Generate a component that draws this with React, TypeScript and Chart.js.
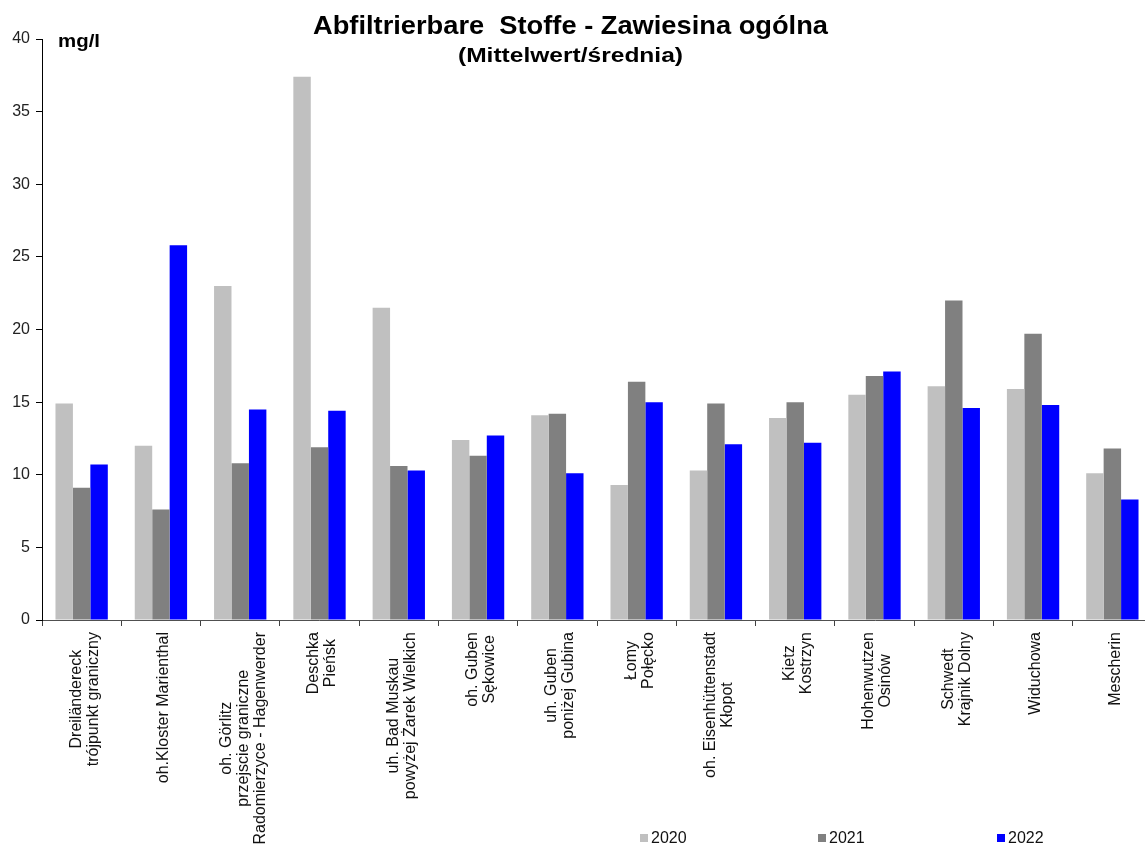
import React, { useEffect, useRef } from "react";
import { Chart, registerables } from "chart.js";

Chart.register(...registerables);

const categories: string[][] = [
  ["Dreiländereck", "trójpunkt graniczny"],
  ["oh.Kloster Marienthal"],
  ["oh. Görlitz", "przejscie graniczne", "Radomierzyce - Hagenwerder"],
  ["Deschka", "Pieńsk"],
  ["uh. Bad Muskau", "powyżej Żarek Wielkich"],
  ["oh. Guben", "Sękowice"],
  ["uh. Guben", "poniżej Gubina"],
  ["Łomy", "Połęcko"],
  ["oh. Eisenhüttenstadt", "Kłopot"],
  ["Kietz", "Kostrzyn"],
  ["Hohenwutzen", "Osinów"],
  ["Schwedt", "Krajnik Dolny"],
  ["Widuchowa"],
  ["Mescherin"],
];

const seriesNames = ["2020", "2021", "2022"];
const values2020 = [14.9, 12.0, 23.0, 37.4, 21.5, 12.4, 14.1, 9.3, 10.3, 13.9, 15.5, 16.1, 15.9, 10.1];
const values2021 = [9.1, 7.6, 10.8, 11.9, 10.6, 11.3, 14.2, 16.4, 14.9, 15.0, 16.8, 22.0, 19.7, 11.8];
const values2022 = [10.7, 25.8, 14.5, 14.4, 10.3, 12.7, 10.1, 15.0, 12.1, 12.2, 17.1, 14.6, 14.8, 8.3];
const seriesColors = ["#c0c0c0", "#808080", "#0000ff"];

const titleText = "Abfiltrierbare  Stoffe - Zawiesina ogólna";
const subtitleText = "(Mittelwert/średnia)";
const unitText = "mg/l";

const yMin = 0;
const yMax = 40;
const yStep = 5;

const FONT = '"Liberation Sans", Arial, Helvetica, sans-serif';

function drawStretched(
  ctx: CanvasRenderingContext2D,
  text: string,
  x: number,
  y: number,
  font: string,
  targetWidth: number,
  align: "center" | "left"
) {
  ctx.save();
  ctx.font = font;
  const w = ctx.measureText(text).width;
  const sx = targetWidth / w;
  ctx.translate(x, y);
  ctx.scale(sx, 1);
  ctx.textAlign = align;
  ctx.textBaseline = "alphabetic";
  ctx.fillText(text, 0, 0);
  ctx.restore();
}

const overlayPlugin = {
  id: "overlay",
  beforeDraw(chart: any) {
    const ctx = chart.ctx;
    ctx.save();
    ctx.fillStyle = "#ffffff";
    ctx.fillRect(0, 0, chart.width, chart.height);
    ctx.restore();
  },
  afterDraw(chart: any) {
    const ctx: CanvasRenderingContext2D = chart.ctx;
    const xs = chart.scales.x;
    const area = chart.chartArea;

    // category labels, rotated, lines centred on each other
    ctx.save();
    ctx.font = `16px ${FONT}`;
    ctx.fillStyle = "#111111";
    (chart.data.labels as any[]).forEach((lab, i) => {
      const lines: string[] = Array.isArray(lab) ? lab : [String(lab)];
      const maxW = Math.max(...lines.map((l) => ctx.measureText(l).width));
      const px = xs.getPixelForValue(i) + 3;
      const py = area.bottom + 12 + maxW / 2;
      ctx.save();
      ctx.translate(px, py);
      ctx.rotate(-Math.PI / 2);
      ctx.textAlign = "center";
      ctx.textBaseline = "middle";
      lines.forEach((l, j) => {
        ctx.fillText(l, 0, (j - (lines.length - 1) / 2) * 17);
      });
      ctx.restore();
    });
    ctx.restore();

    // titles
    ctx.save();
    ctx.fillStyle = "#000000";
    drawStretched(ctx, titleText, 570.5, 34, `bold 25px ${FONT}`, 515, "center");
    drawStretched(ctx, subtitleText, 570.5, 62, `bold 20px ${FONT}`, 225, "center");
    drawStretched(ctx, unitText, 58, 47, `bold 18px ${FONT}`, 42, "left");
    ctx.restore();

    // legend
    const legendX = [640, 818, 997];
    const legendY = 838;
    ctx.save();
    ctx.font = `16px ${FONT}`;
    ctx.textBaseline = "middle";
    ctx.textAlign = "left";
    chart.data.datasets.forEach((ds: any, i: number) => {
      const lx = legendX[i];
      ctx.fillStyle = ds.backgroundColor;
      ctx.fillRect(lx, legendY - 4, 8, 8);
      ctx.fillStyle = "#111111";
      ctx.fillText(ds.label, lx + 11, legendY + 1);
    });
    ctx.restore();
  },
};

export default function App() {
  const canvasRef = useRef<HTMLCanvasElement | null>(null);

  useEffect(() => {
    const canvas = canvasRef.current;
    if (!canvas) return;
    const seriesValues = [values2020, values2021, values2022];
    const chart = new Chart(canvas, {
      type: "bar",
      data: {
        labels: categories,
        datasets: seriesNames.map((name, i) => ({
          label: name,
          data: seriesValues[i],
          backgroundColor: seriesColors[i],
          borderWidth: 0,
          categoryPercentage: 0.66,
          barPercentage: 1.0,
        })),
      },
      options: {
        responsive: false,
        animation: false,
        devicePixelRatio: 1,
        layout: { padding: { left: 0, right: 1, top: 39, bottom: 0 } },
        plugins: {
          legend: { display: false },
          title: { display: false },
          tooltip: { enabled: false },
        },
        scales: {
          x: {
            type: "category",
            offset: true,
            grid: {
              offset: true,
              drawOnChartArea: false,
              drawTicks: true,
              tickLength: 6,
              color: "#404040",
            },
            border: { display: true, color: "#505050", width: 1 },
            ticks: { display: false },
            afterFit(scale: any) {
              scale.height = 227;
            },
          },
          y: {
            min: yMin,
            max: yMax,
            grid: {
              drawOnChartArea: false,
              drawTicks: true,
              tickLength: 6,
              color: "#000000",
            },
            border: { display: true, color: "#000000", width: 1 },
            ticks: {
              stepSize: yStep,
              padding: 6,
              color: "#222222",
              font: { family: FONT, size: 16 },
            },
            afterFit(scale: any) {
              scale.width = 42;
            },
          },
        },
      },
      plugins: [overlayPlugin],
    });
    return () => chart.destroy();
  }, []);

  return (
    <div
      style={{
        position: "fixed",
        left: 0,
        top: 0,
        width: 1145,
        height: 847,
        overflow: "hidden",
        background: "#ffffff",
      }}
    >
      <canvas ref={canvasRef} width={1153} height={847} style={{ width: 1153, height: 847, display: "block" }} />
    </div>
  );
}
